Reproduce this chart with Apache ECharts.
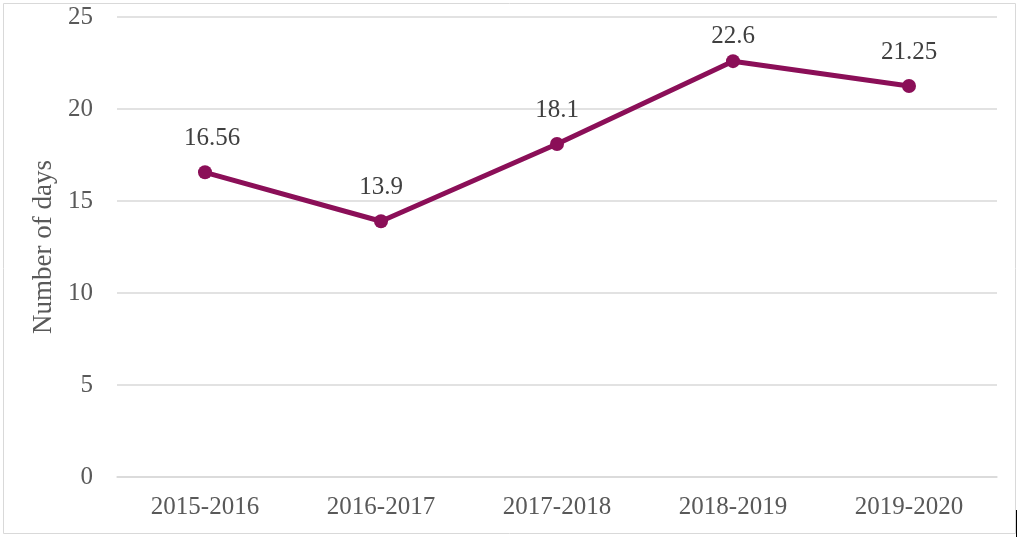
<!DOCTYPE html>
<html>
<head>
<meta charset="utf-8">
<script src="https://cdn.jsdelivr.net/npm/echarts@6/dist/echarts.min.js"></script>
<style>html,body{margin:0;padding:0;background:#fff;}#c{width:1019px;height:537px;}</style>
</head>
<body>
<div id="c"></div>
<script>
const categories = ['2015-2016', '2016-2017', '2017-2018', '2018-2019', '2019-2020'];
const values = [16.56, 13.9, 18.1, 22.6, 21.25];
const yTicks = [0, 5, 10, 15, 20, 25];
const yTitle = 'Number of days';

const FONT = '"Liberation Serif", serif';
const chart = echarts.init(document.getElementById('c'));
const data = values.map((v, i) => {
  const d = { value: v };
  if (i === 3) d.label = { distance: 5 };
  if (i === 0) d.label = { offset: [7, 0] };
  return d;
});
chart.setOption({
  animation: false,
  graphic: [{
    type: 'rect', shape: { x: 3.5, y: 3.5, width: 1012, height: 530 },
    style: { fill: 'none', stroke: '#d9d9d9', lineWidth: 1 }, silent: true, z: -1
  }, {
    type: 'line', shape: { x1: 1016.5, y1: 510, x2: 1016.5, y2: 537 },
    style: { stroke: '#000', lineWidth: 1 }, silent: true
  }],
  grid: { left: 117, right: 22, top: 17, bottom: 60 },
  xAxis: {
    type: 'category', data: categories, boundaryGap: true,
    axisLine: { show: true, lineStyle: { color: '#d9d9d9', width: 1.5 } },
    axisTick: { show: false },
    axisLabel: { color: '#595959', fontFamily: FONT, fontSize: 25, margin: 18 }
  },
  yAxis: {
    type: 'value', min: yTicks[0], max: yTicks[yTicks.length - 1], interval: 5,
    name: yTitle, nameLocation: 'middle', nameGap: 60,
    nameTextStyle: { color: '#595959', fontFamily: FONT, fontSize: 27 },
    axisLine: { show: false }, axisTick: { show: false },
    splitLine: { lineStyle: { color: '#d9d9d9', width: 1.5 } },
    axisLabel: { color: '#595959', fontFamily: FONT, fontSize: 25, margin: 24 }
  },
  series: [{
    type: 'line', data: data,
    symbol: 'circle', symbolSize: 14,
    lineStyle: { color: '#8b0f58', width: 5 },
    itemStyle: { color: '#8b0f58' },
    label: { show: true, position: 'top', distance: 14, color: '#404040', fontFamily: FONT, fontSize: 25 }
  }]
});
</script>
</body>
</html>
